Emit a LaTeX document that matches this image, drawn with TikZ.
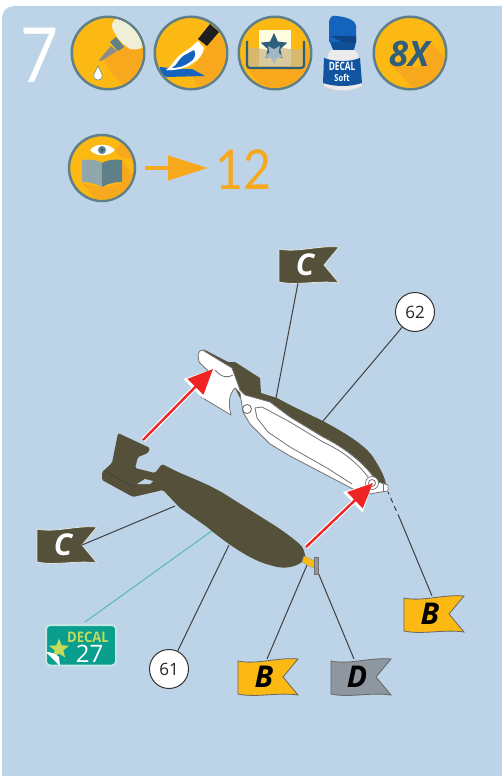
\documentclass[tikz,border=0pt]{standalone}
\usepackage{fontspec}
\setmainfont{Open Sans}
\newfontfamily\lightfont{Lato}
\usepackage{xcolor}
\usetikzlibrary{arrows.meta, shapes.geometric, calc}

\definecolor{panelblue}{HTML}{BDD3E7}
\definecolor{iconyellow}{HTML}{FDB913}
\definecolor{iconshade}{HTML}{F8A81C}
\definecolor{iconring}{HTML}{5F8088}
\definecolor{slateblue}{HTML}{2F5F7A}
\definecolor{bombdark}{HTML}{555039}
\definecolor{flaggrey}{HTML}{8E979F}
\definecolor{decalgreen}{HTML}{0A9E8F}
\definecolor{decallime}{HTML}{C4DB5A}
\definecolor{arrowred}{HTML}{EE2524}
\definecolor{bottleblue}{HTML}{1464BE}

\tikzset{
  roundicon/.style={circle, draw=iconring, line width=2.5pt, fill=iconyellow, minimum size=72.5pt, inner sep=0pt, outer sep=0pt},
  leader/.style={draw=black!75, line width=1pt},
  partno/.style={circle, draw=black!80, line width=1pt, fill=white, minimum size=39pt, inner sep=0pt, font=\fontsize{17}{17}\selectfont, text=black!85},
  flagtag/.style={minimum width=60pt, minimum height=36pt, inner sep=0pt, outer sep=0pt, font=\fontsize{30}{30}\selectfont\bfseries\itshape},
  fitarrow/.style={-{Triangle[length=25pt,width=22pt]}, line width=2.4pt, arrowred},
  fithalo/.style={-{Triangle[length=28pt,width=27pt]}, line width=4.6pt, white},
}

% flag: centre, name, fill, border, letter colour, letter
\newcommand{\flagat}[6]{
  \fill[#3, draw=#4, line width=0.8pt, shift={(#1)}]
    (-30,-16) .. controls (-12,-12) and (10,-20) .. (30,-18) -- (15,0) -- (30,18)
    .. controls (10,15) and (-12,21) .. (-30,17) -- cycle;
  \node[flagtag, text=#5, xshift=-4pt] (#2) at (#1) {#6};
}

\begin{document}
\begin{tikzpicture}[x=1pt, y=-1pt]
  \useasboundingbox (0,0) rectangle (502,776);
  \fill[white] (0,0) rectangle (502,776);
  \fill[panelblue, rounded corners=12pt] (2,6) rectangle (520,790);

  \node[text=white, inner sep=0pt, font=\lightfont\fontsize{76}{76}\selectfont, xscale=0.86] (stepno) at (39,55) {7};

  % glue
  \node[roundicon] (glue) at (108,53) {};
  \begin{scope}
    \clip (108,53) circle (35);
    \fill[iconshade] (102,58) -- (118,46) -- (143,40) -- (170,90) -- (130,100) -- cycle;
    \fill[iconyellow!70!iconshade] (100,60) -- (101,62) -- (130,92) -- (127,94) -- cycle;
    \fill[black!8!white!90!yellow] (112,27) .. controls (112,20) and (116,17) .. (122,18)
      .. controls (135,22) and (145,32) .. (146,44) .. controls (142,50) and (135,50) .. (130,49)
      .. controls (122,44) and (115,36) .. (112,27) -- cycle;
    \fill[iconring] (110,42) -- (116,37) -- (124,47) -- (118,51) -- cycle;
    \fill[black!45] (111,46) -- (117,51) -- (101,61) -- (99,60) -- cycle;
    \fill[white, draw=iconring, line width=0.5pt] (98,66) .. controls (100,71) and (103,74) .. (102,77)
      .. controls (101,81) and (95,81) .. (94,77) .. controls (93,74) and (96,71) .. (98,66) -- cycle;
  \end{scope}

  % brush
  \node[roundicon] (brush) at (191,53) {};
  \begin{scope}
    \clip (191,53) circle (35);
    \fill[iconshade] (208,46) -- (222,30) -- (240,70) -- (205,100) -- (190,72) -- cycle;
    \fill[bottleblue] (160,67) -- (178,69) -- (192,69) -- (205,76) -- (167,77) -- (160,74) -- cycle;
    \fill[white] (198,41) -- (204,48) .. controls (203,54) and (199,60) .. (193,63)
      .. controls (188,67) and (178,71) .. (166,70) .. controls (172,66) and (174,60) .. (180,55)
      .. controls (184,52) and (187,50) .. (190,48) -- cycle;
    \fill[bottleblue] (194,50) .. controls (197,54) and (194,60) .. (190,62) .. controls (185,66) and (178,68) .. (172,68)
      .. controls (178,64) and (178,60) .. (183,56) -- cycle;
    \fill[black!88] (210,24) -- (219,32) -- (207,46) -- (198,39) -- cycle;
  \end{scope}

  % tray
  \node[roundicon] (tray) at (275,53) {};
  \begin{scope}
    \clip (275,53) circle (35);
    \fill[iconshade] (248,68) -- (304,68) -- (304,42) -- (330,70) -- (290,110) -- (262,88) -- cycle;
    \fill[white!88!yellow] (259,30) rectangle (291,66);
    \fill[iconyellow!35!white!80!black, opacity=0.75] (248,49) .. controls (258,45) and (262,52) .. (275,49)
      .. controls (285,46) and (292,52) .. (304,48) -- (304,67) -- (248,67) -- cycle;
    \node[star, star points=5, star point ratio=2.1, fill=slateblue, minimum size=28pt, inner sep=0pt] (traystar) at (274,47) {};
    \node[star, star points=5, star point ratio=2.1, fill=slateblue!45!white, minimum size=20pt, inner sep=0pt, rotate=180] (trayecho) at (274,54) {};
    \draw[slateblue, line width=2.2pt, rounded corners=3pt] (247,41) -- (247,68) -- (304,68) -- (304,41);
  \end{scope}

  % softener bottle
  \fill[white!92!black, draw=black!15, line width=0.4pt] (324,86) -- (328,54) -- (334,46) -- (351,46) -- (358,54) -- (362,86)
    .. controls (352,92) and (334,92) .. (324,86) -- cycle;
  \fill[bottleblue!80!black] (330,42) -- (356,42) -- (354,50) -- (333,50) -- cycle;
  \fill[bottleblue] (329,24) .. controls (329,16) and (333,15) .. (337,16)
    .. controls (345,17) and (355,19) .. (356,26) -- (356,42) -- (329,42) -- cycle;
  \fill[bottleblue!70!black] (330,36) -- (356,36) -- (356,43) -- (342,42) -- cycle;
  \fill[bottleblue!85!black] (324,58) .. controls (335,62) and (350,62) .. (360,58) -- (362,83)
    .. controls (350,87) and (335,87) .. (323,83) -- cycle;
  \node[text=white, inner sep=0pt, font=\bfseries\fontsize{11.5}{12}\selectfont, xscale=0.72] (bottleline) at (342,66) {DECAL};
  \node[text=white, inner sep=0pt, font=\bfseries\fontsize{9.5}{10}\selectfont, xscale=0.8] (bottlesoft) at (342,78) {Soft};

  % repeat count
  \node[roundicon] (repeat) at (410,53) {};
  \begin{scope}
    \clip (410,53) circle (35);
    \fill[iconshade] (392,66) -- (420,67) -- (430,42) -- (470,85) -- (430,105) -- cycle;
  \end{scope}
  \node[text=slateblue, inner sep=0pt, font=\bfseries\itshape\fontsize{35}{35}\selectfont] (repeattext) at (409,54) {8X};

  % book reference
  \node[roundicon, minimum size=66pt] (book) at (102,168) {};
  \begin{scope}
    \clip (102,168) circle (31.7);
    \fill[iconshade] (82,183) -- (102,188) -- (122,183) -- (122,160) -- (150,200) -- (110,215) -- cycle;
    \fill[iconshade] (114,150) -- (122,158) -- (140,160) -- (125,140) -- cycle;
    \fill[white] (90,150) .. controls (96,143) and (108,143) .. (115,150) .. controls (108,157) and (96,157) .. (90,150) -- cycle;
    \fill[iconring] (102,150) circle (4);
    \fill[slateblue] (102,150) circle (1.8);
    \fill[iconring!70!white] (82,160) .. controls (90,159) and (97,160) .. (102,163) -- (102,187) .. controls (97,184) and (90,182) .. (82,182) -- cycle;
    \fill[iconring] (122,160) .. controls (114,159) and (107,160) .. (102,163) -- (102,187) .. controls (107,184) and (114,182) .. (122,182) -- cycle;
  \end{scope}
  \node[text=iconshade, anchor=west, inner sep=0pt, font=\lightfont\fontsize{55}{55}\selectfont, xscale=0.88] (pageno) at (215,170) {12};
  \draw[-{Triangle[length=40pt,width=24pt]}, line width=4.5pt, iconshade, shorten <=10pt, shorten >=7pt] (book) -- (pageno.west |- book);

  % flags, numbers and decal tag
  \flagat{309,265}{flagCtop}{bombdark}{white!85!bombdark}{white}{C}
  \flagat{67,545}{flagCleft}{bombdark}{white!85!bombdark}{white}{C}
  \flagat{434,614}{flagBright}{iconyellow}{black!60}{black}{B}
  \flagat{268,677}{flagBlow}{iconyellow}{black!60}{black}{B}
  \flagat{361,677}{flagD}{flaggrey}{black!60}{black}{D}
  \node[partno] (part62) at (415,312) {62};
  \node[partno] (part61) at (169,669) {61};

  \fill[decalgreen, draw=white!75!decalgreen, line width=2pt, rounded corners=4pt] (46,625) rectangle (116,665.5);
  \node[star, star points=5, star point ratio=2.3, fill=decallime, minimum size=21pt, inner sep=0pt] (decalstar) at (59,649) {};
  \fill[white] (46,652) -- (60,666) -- (59,657) .. controls (55,653) and (50,652) .. (46,652) -- cycle;
  \node[text=decallime, inner sep=0pt, font=\bfseries\fontsize{14.5}{15}\selectfont, xscale=0.9] (decalword) at (88,637) {DECAL};
  \node[text=white, inner sep=0pt, font=\fontsize{24}{24}\selectfont] (decalno) at (89.5,654) {27};
  \coordinate (decaltag) at (85,622);

  % leader ends on the parts
  \coordinate (upperC) at (276,398);
  \coordinate (upper62) at (323,421);
  \coordinate (lowerC) at (175,506);
  \coordinate (lowerdecal) at (220,525);
  \coordinate (lower61) at (229,545);
  \coordinate (tailB) at (307,565);
  \coordinate (tailD) at (317,570);
  \coordinate (stubtop) at (388,492);
  \coordinate (stubmid) at (400,519);

  \draw[leader] ([xshift=-7pt]flagCtop.south) -- (upperC);
  \draw[leader] (part62) -- (upper62);
  \draw[leader] ([xshift=-11pt]flagCleft.east) -- (lowerC);
  \draw[line width=1pt, draw=decalgreen!70!white] (decaltag) -- (lowerdecal);
  \draw[leader] (part61) -- (lower61);
  \draw[leader] ([xshift=3pt]flagBlow.north) -- (tailB);
  \draw[leader] ([xshift=-3pt]flagD.north) -- (tailD);
  \draw[leader] ([xshift=2pt]flagBright.north) -- (stubmid);
  \draw[leader, dash pattern=on 5pt off 4pt] (stubmid) -- (stubtop);

  % upper half
  \fill[bombdark] (203,349) -- (228,362) -- (235,362) -- (260,378) -- (261,393) -- (277,398) -- (290,405) -- (323,421)
    .. controls (345,433) and (365,445) .. (373,457) .. controls (380,468) and (384,475) .. (386,484)
    -- (370,480) -- (240,398) -- (225,368) -- cycle;
  \filldraw[fill=white, draw=black!55, line width=0.8pt, line join=round] (198,355) .. controls (199,351) and (201,349) .. (204,351)
    -- (232,368) -- (240,390) -- (245,395) -- (270,402) -- (290,417) -- (323,437)
    .. controls (345,448) and (362,462) .. (372,475) -- (378,482) -- (388,485) -- (388,491) -- (381,492)
    -- (370,494) -- (353,489) -- (290,456) -- (270,444) -- (250,424) -- (243,412) -- (240,393) -- (235,388)
    .. controls (229,394) and (228,403) .. (231,415) -- (201,397) -- (210,373) -- (199,362) -- cycle;
  \draw[black!55, line width=0.8pt, line join=round] (255,408) -- (262,407) -- (290,422) -- (323,442)
    .. controls (340,450) and (355,460) .. (368,477);
  \draw[black!55, line width=0.8pt, line join=round] (255,408) -- (257,418) -- (268,432) -- (290,447) -- (327,468) -- (352,484);
  \draw[black!55, line width=0.8pt] (215,370) .. controls (222,378) and (228,378) .. (233,375);
  \draw[black!60, line width=0.8pt] (247,409) circle (4.5);
  \filldraw[fill=white, draw=black!55, line width=0.7pt] (372,483) circle (6.5);
  \draw[black!55, line width=0.8pt] (372,483) circle (3.5);
  \draw[black!55, line width=0.6pt] (383,484) -- (383,492);

  % lower half
  \fill[bombdark, rounded corners=1.5pt] (162,464) -- (170,468) .. controls (185,476) and (200,480) .. (223,493)
    -- (277,527) .. controls (290,536) and (298,542) .. (303,548) -- (306,558)
    .. controls (298,567) and (285,570) .. (270,565) .. controls (250,560) and (225,542) .. (207,527)
    -- (180,508) -- (163,490) -- (133,497) -- (102,480) -- (102,472) -- (112,463) -- (118,433)
    -- (150,448) -- (148,453) -- (138,457) -- (135,468) -- (155,473) -- cycle;
  \fill[panelblue] (137,484) -- (145,479) -- (153,481) -- (150,484) -- cycle;
  \draw[black!75, line width=0.7pt] (105,471) -- (134,487);
  \fill[iconyellow, draw=black!40, line width=0.4pt] (304,556) -- (315,561) -- (313,568) -- (302,562) -- cycle;
  \fill[flaggrey, draw=black!55, line width=0.5pt] (314,557) rectangle (318,574);

  % fit arrows
  \coordinate (fintail) at (143,440);
  \coordinate (finhead) at (213,369);
  \coordinate (nosetail) at (306,547);
  \coordinate (nosehead) at (373,483);
  \draw[fithalo] (fintail) -- (finhead);
  \draw[fithalo] (nosetail) -- (nosehead);
  \draw[fitarrow] (fintail) -- (finhead);
  \draw[fitarrow] (nosetail) -- (nosehead);
\end{tikzpicture}
\end{document}
